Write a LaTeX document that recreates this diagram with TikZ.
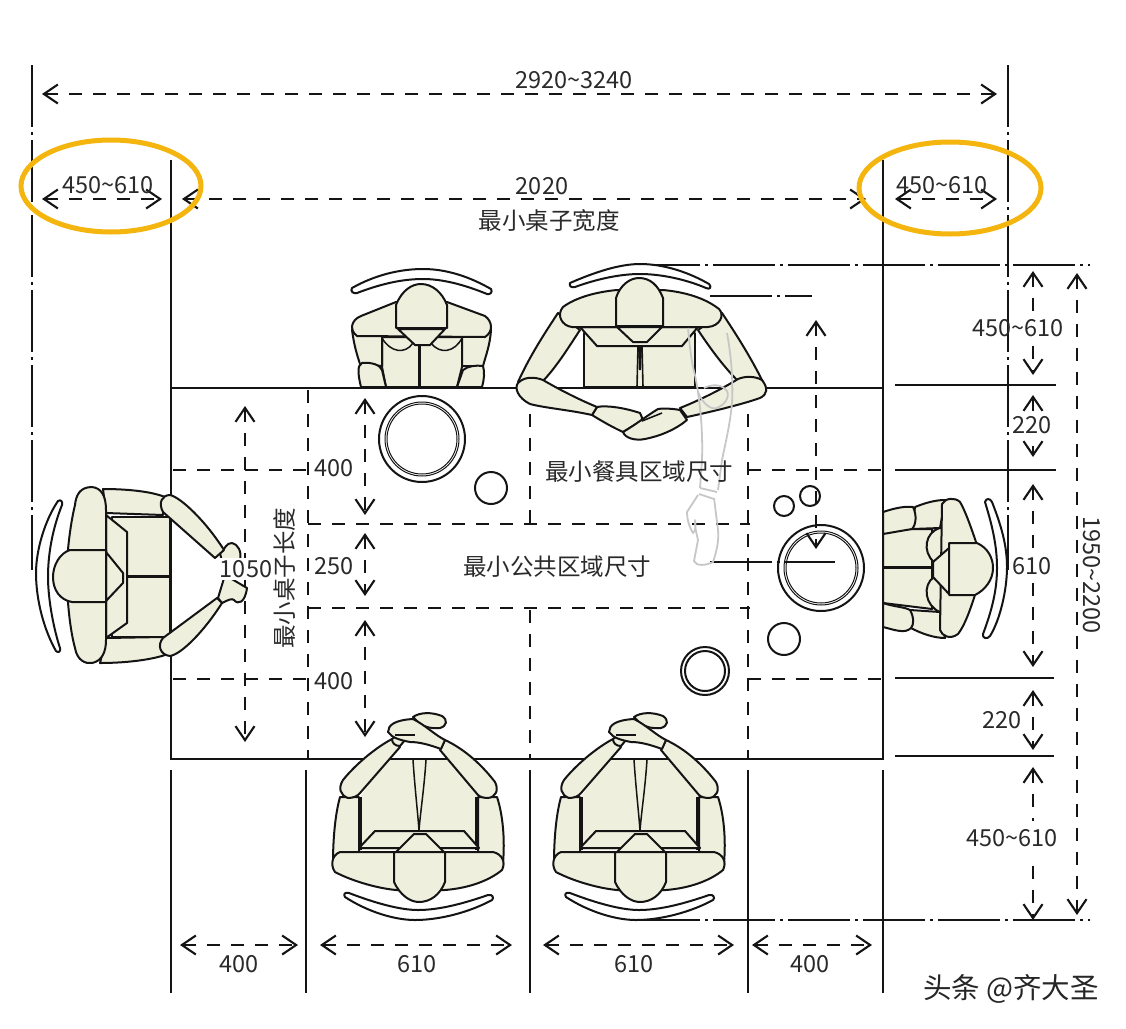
\documentclass[tikz,border=0pt]{standalone}
\usepackage{fontspec}
\setmainfont{Noto Sans CJK SC}
\usetikzlibrary{arrows.meta}
\definecolor{skin}{HTML}{EEEFDC}
\definecolor{ink}{HTML}{141414}
\definecolor{halo}{HTML}{F5B50F}
\definecolor{txt}{HTML}{2A2A2A}
\tikzset{
 body/.style={draw=ink,fill=skin,line width=2pt,line join=round},
 seat/.style={draw=ink,fill=white,line width=2pt,line join=round},
 thin line/.style={draw=ink,line width=1.5pt},
 wall/.style={draw=ink,line width=2pt},
 zone/.style={draw=ink,line width=2pt,dash pattern=on 13pt off 11pt},
 centre/.style={draw=ink,line width=2pt,dash pattern=on 62pt off 5pt on 3pt off 5pt},
 dimarrow/.style={draw=ink,line width=2pt,dash pattern=on 13pt off 11pt,{Straight Barb[length=14pt,width=19pt,line width=2.1pt]}-{Straight Barb[length=14pt,width=19pt,line width=2.1pt]}},
 lab/.style={text=txt,font=\fontsize{23.5}{24}\selectfont,inner sep=0pt},
 ring/.style={draw=ink,line width=2pt,fill=white},
 ghost/.style={draw=black!22,line width=1.8pt,line join=round},
 goldring/.style={draw=halo,line width=5pt},
}
\begin{document}
\begin{tikzpicture}[x=1pt,y=-1pt]
\useasboundingbox (0,0) rectangle (1126,1028);
\fill[white] (0,0) rectangle (1126,1028);
% ---- extension lines
\draw[centre] (32,65) -- (32,570);
\draw[centre] (1008,65) -- (1008,570);
\draw[wall] (171,160) -- (171,388);
\draw[wall] (883,160) -- (883,388);
\foreach \xx in {171,306,530,748,883} \draw[wall] (\xx,770) -- (\xx,993);
\draw[wall] (895,385) -- (1056,385);
\draw[wall] (895,470) -- (1056,470);
\draw[wall] (895,678) -- (1054,678);
\draw[wall] (895,756) -- (1054,756);
\draw[centre] (638,265) -- (1090,265);
\draw[centre] (638,920) -- (1090,920);
% ---- table
\draw[wall] (171,388) rectangle (883,759);
% ---- zones
\draw[zone] (308,390) -- (308,759);
\draw[zone] (530,390) -- (530,525);
\draw[zone] (530,610) -- (530,759);
\draw[zone] (748,390) -- (748,759);
\draw[zone] (173,470) -- (308,470);
\draw[zone] (748,470) -- (883,470);
\draw[zone] (173,679) -- (308,679);
\draw[zone] (748,679) -- (883,679);
\draw[zone] (308,524) -- (750,524);
\draw[zone] (308,608) -- (750,608);
% ---- tableware
\draw[ring] (422,439) circle[radius=43pt];
\draw[draw=ink,line width=1pt] (422,439) circle[radius=37pt];
\draw[draw=ink,line width=1pt] (422,439) circle[radius=35pt];
\draw[ring] (491,488) circle[radius=16pt];
\draw[ring] (821,568) circle[radius=43pt];
\draw[draw=ink,line width=1pt] (821,568) circle[radius=37pt];
\draw[draw=ink,line width=1pt] (821,568) circle[radius=35pt];
\draw[ring] (784,506) circle[radius=10pt];
\draw[ring] (810,496) circle[radius=10pt];
\draw[ring] (784,639) circle[radius=16pt];
\draw[ring] (705,671) circle[radius=24pt];
\draw[ring] (705,671) circle[radius=20pt];
% ---- dimension arrows
\draw[dimarrow] (42,94) -- (997,94);
\draw[dimarrow] (42,199) -- (162,199);
\draw[dimarrow] (182,199) -- (866,199);
\draw[dimarrow] (895,199) -- (997,199);
\draw[dimarrow] (180,945) -- (298,945);
\draw[dimarrow] (320,945) -- (512,945);
\draw[dimarrow] (543,945) -- (734,945);
\draw[dimarrow] (752,945) -- (872,945);
\draw[dimarrow] (245,406) -- (245,742);
\draw[dimarrow] (365,398) -- (365,515);
\draw[dimarrow] (365,533) -- (365,596);
\draw[dimarrow] (365,620) -- (365,737);
\draw[dimarrow] (816,320) -- (816,549);
\draw[dimarrow] (1033,271) -- (1033,375);
\draw[dimarrow] (1033,395) -- (1033,457);
\draw[dimarrow] (1033,484) -- (1033,667);
\draw[dimarrow] (1033,690) -- (1033,750);
\draw[dimarrow] (1033,767) -- (1033,920);
\draw[dimarrow] (1077,273) -- (1077,915);
\fill[white] (1028,311) rectangle (1038,344);
\fill[white] (1028,821) rectangle (1038,855);
\draw[centre] (710,296) -- (812,296);
\draw[centre] (710,562) -- (835,562);
% ---- seated person, top left
\draw[seat] (352,288) .. controls (375,275) and (400,269) .. (423,269) .. controls (447,269) and (470,277) .. (491,289) .. controls (493,292) and (490,295) .. (487,294) .. controls (465,285) and (443,279) .. (423,279) .. controls (400,279) and (378,285) .. (357,293) .. controls (353,294) and (350,291) .. (352,288) -- cycle;
\draw[body] (382,337) -- (382,367) -- (386,387) -- (457,387) -- (462,367) -- (462,337) -- cycle;
\draw[body] (352,330) .. controls (354,345) and (357,355) .. (360,364) -- (382,366) -- (382,336) -- cycle;
\draw[body] (491,330) .. controls (490,345) and (486,355) .. (483,366) -- (462,366) -- (462,336) -- cycle;
\draw[body] (361,387) .. controls (358,375) and (357,365) .. (362,363) .. controls (372,362) and (380,365) .. (382,370) -- (386,387) -- cycle;
\draw[body] (457,387) -- (463,370) .. controls (468,366) and (476,365) .. (483,366) .. controls (485,372) and (484,380) .. (482,387) -- cycle;
\draw[thin line] (382,338) .. controls (390,352) and (405,355) .. (413,343);
\draw[thin line] (431,343) .. controls (440,355) and (455,352) .. (462,338);
\draw[ink,line width=3pt] (419.5,345) -- (419.5,387);
\draw[body] (396,302) -- (361,316) .. controls (351,320) and (349,330) .. (357,336) -- (485,337) .. controls (493,332) and (493,322) .. (485,316) -- (447,302) -- cycle;
\draw[body] (398,329) -- (415,345) -- (430,345) -- (445,329) -- cycle;
\draw[body] (396,328) -- (396,305) .. controls (402,290) and (412,284) .. (421,284) .. controls (432,284) and (442,292) .. (447,305) -- (447,328) -- cycle;
% ---- seated person, top right
\draw[seat] (570,283) .. controls (595,272) and (620,264) .. (640,264) .. controls (665,264) and (690,273) .. (709,284) .. controls (712,287) and (710,290) .. (706,288) .. controls (685,279) and (660,274) .. (640,274) .. controls (620,274) and (597,279) .. (575,287) .. controls (571,288) and (569,286) .. (570,283) -- cycle;
\draw[body] (584,333) -- (584,387) -- (695,387) -- (695,333) -- cycle;
\draw[ink,line width=1.6pt] (638,346) -- (637,387) (642,346) -- (643,387);
\fill[ink] (638,346) -- (642,346) -- (641,370) -- (639,370) -- cycle;
\draw[body] (558,313) .. controls (540,340) and (528,360) .. (518,382) -- (543,381) .. controls (558,365) and (570,345) .. (580,330) -- cycle;
\draw[body] (722,313) .. controls (740,340) and (752,360) .. (763,382) -- (738,381) .. controls (722,365) and (708,345) .. (698,330) -- cycle;
\draw[body] (580,327) -- (597,346) -- (682,346) -- (698,327) -- cycle;
\draw[body] (617,290) .. controls (595,292) and (575,298) .. (563,307) .. controls (556,315) and (562,326) .. (572,327) -- (708,327) .. controls (720,326) and (725,315) .. (719,309) .. controls (705,298) and (685,292) .. (663,290) -- cycle;
\draw[body] (617,327) -- (633,342) -- (647,342) -- (662,327) -- cycle;
\draw[body] (616,326) -- (616,298) .. controls (620,285) and (630,278) .. (639,278) .. controls (650,278) and (658,285) .. (663,298) -- (663,326) -- cycle;
\draw[body] (597,407) .. controls (607,405) and (625,408) .. (640,413) .. controls (642,416) and (642,418) .. (642,421) .. controls (636,424) and (630,428) .. (623,432) .. controls (612,427) and (600,420) .. (592,415) -- cycle;
\draw[body] (543,380) .. controls (560,390) and (580,400) .. (597,407) -- (592,415) .. controls (570,410) and (545,408) .. (530,404) .. controls (518,398) and (514,388) .. (518,383) .. controls (525,376) and (535,377) .. (543,380) -- cycle;
\draw[body] (623,432) .. controls (635,425) and (648,415) .. (658,409) .. controls (665,408) and (675,409) .. (680,410) -- (687,420) .. controls (675,430) and (660,436) .. (645,439) .. controls (635,441) and (625,438) .. (623,432) -- cycle;
\draw[ink,line width=1.6pt] (642,421) -- (662,413);
\draw[body] (680,408) .. controls (700,400) and (720,390) .. (738,379) .. controls (745,376) and (755,376) .. (762,380) .. controls (768,388) and (768,394) .. (760,398) .. controls (740,405) and (710,412) .. (687,417) -- cycle;
% ---- seated person, left
\draw[seat] (58,501) .. controls (61,499) and (63,502) .. (62,505) .. controls (54,525) and (48,550) .. (48,577) .. controls (48,600) and (54,630) .. (60,648) .. controls (61,652) and (58,653) .. (56,651) .. controls (44,630) and (36,600) .. (36,573) .. controls (36,550) and (45,520) .. (58,501) -- cycle;
\draw[body] (112,517) -- (170,517) -- (170,637) -- (112,637) -- cycle;
\draw[ink,line width=3pt] (127,576) -- (170,576);
\draw[body] (103,489) .. controls (125,489) and (150,491) .. (165,497) -- (163,515) -- (106,513) -- cycle;
\draw[body] (100,663) .. controls (125,663) and (150,660) .. (165,655) -- (163,637) -- (106,638) -- cycle;
\draw[body] (106,515) -- (127,532) -- (127,623) -- (106,638) -- cycle;
\draw[body] (92,487) .. controls (80,487) and (76,495) .. (75,505) .. controls (70,525) and (66,560) .. (67,577) .. controls (67,600) and (70,630) .. (75,648) .. controls (77,660) and (85,664) .. (92,663) .. controls (102,661) and (106,652) .. (106,640) -- (106,510) .. controls (106,497) and (102,488) .. (92,487) -- cycle;
\draw[body] (106,552) -- (123,573) -- (123,583) -- (106,601) -- cycle;
\draw[body] (106,550) -- (70,550) .. controls (60,553) and (53,565) .. (53,577) .. controls (53,590) and (60,600) .. (72,602) -- (106,602) -- cycle;
\draw[body] (220,553) .. controls (226,548) and (226,543) .. (232,543) .. controls (238,544) and (242,552) .. (240,560) -- (225,575) -- cycle;
\draw[body] (218,598) -- (222,603) .. controls (228,600) and (232,598) .. (234,600) .. controls (238,605) and (245,603) .. (247,588) -- (225,575) -- cycle;
\draw[body] (163,512) .. controls (158,503) and (162,495) .. (170,495) .. controls (180,497) and (205,520) .. (224,550) -- (215,558) -- cycle;
\draw[body] (163,638) .. controls (157,645) and (160,655) .. (170,656) .. controls (182,654) and (205,630) .. (222,603) -- (217,598) -- cycle;
% ---- seated person, right
\draw[seat] (985,502) .. controls (986,498) and (990,498) .. (992,502) .. controls (1001,525) and (1007,545) .. (1007,567) .. controls (1007,590) and (1000,620) .. (990,636) .. controls (987,640) and (982,638) .. (983,634) .. controls (992,610) and (997,590) .. (997,568) .. controls (997,545) and (992,525) .. (985,502) -- cycle;
\draw[body] (883,529) -- (932,529) -- (932,609) -- (883,603) -- cycle;
\draw[ink,line width=3pt] (883,567) -- (932,567);
\draw[body] (915,507) .. controls (925,503) and (935,500) .. (945,500) -- (940,528) -- (912,529) -- cycle;
\draw[body] (910,610) -- (940,612) -- (945,638) .. controls (935,638) and (922,634) .. (911,628) -- cycle;
\draw[body] (883,512) .. controls (895,508) and (905,506) .. (913,507) .. controls (917,515) and (916,525) .. (912,529) -- (883,534) -- cycle;
\draw[body] (883,603) .. controls (895,607) and (905,607) .. (910,610) .. controls (914,617) and (914,625) .. (911,628) .. controls (905,634) and (895,630) .. (883,627) -- cycle;
\draw[body] (940,528) .. controls (925,532) and (922,552) .. (934,562) -- (949,548) -- (949,530) -- cycle;
\draw[body] (940,612) .. controls (925,606) and (922,585) .. (934,577) -- (949,590) -- (949,612) -- cycle;
\draw[body] (942,504) .. controls (945,498) and (955,497) .. (960,502) .. controls (965,510) and (972,530) .. (977,545) -- (975,595) .. controls (970,610) and (965,625) .. (958,634) .. controls (950,640) and (942,636) .. (940,630) -- cycle;
\draw[body] (949,548) -- (933,562) -- (933,577) -- (949,594) -- cycle;
\draw[body] (949,543) -- (977,543) .. controls (988,548) and (993,558) .. (993,568) .. controls (993,580) and (985,590) .. (975,595) -- (949,595) -- cycle;
% ---- seated persons, bottom (same figure twice)
\foreach \dx in {0,221}{
\begin{scope}[xshift=\dx pt]
\draw[seat] (345,897) .. controls (343,894) and (345,892) .. (349,893) .. controls (375,903) and (400,910) .. (418,910) .. controls (440,910) and (465,903) .. (488,895) .. controls (493,894) and (494,898) .. (492,900) .. controls (470,912) and (440,920) .. (415,920) .. controls (395,920) and (368,912) .. (345,897) -- cycle;
\fill[skin] (360,797) -- (386,760) -- (452,760) -- (480,797) -- (477,850) -- (362,850) -- cycle;
\draw[ink,line width=1.5pt] (413,760) .. controls (415,790) and (418,815) .. (419,831) .. controls (420,815) and (424,790) .. (426,760);
\draw[body] (340,797) .. controls (335,815) and (333,840) .. (333,863) -- (359,855) -- (359,797) -- cycle;
\draw[body] (497,797) .. controls (503,815) and (505,840) .. (503,863) -- (478,855) -- (478,797) -- cycle;
\draw[ink,line width=2.6pt] (360.5,797) -- (360.5,850) (476.5,797) -- (476.5,850);
\draw[body] (359,848) -- (375,831) -- (464,831) -- (479,848) -- cycle;
\draw[body] (340,852) .. controls (332,855) and (330,865) .. (335,872) .. controls (350,880) and (375,888) .. (396,890) -- (445,890) .. controls (470,888) and (490,880) .. (502,870) .. controls (506,862) and (502,854) .. (493,852) -- cycle;
\draw[body] (396,852) -- (414,834) -- (426,834) -- (444,852) -- cycle;
\draw[body] (394,852) -- (394,882) .. controls (400,895) and (410,902) .. (419,902) .. controls (430,902) and (440,895) .. (445,882) -- (445,852) -- cycle;
\draw[body] (392,739) .. controls (375,748) and (355,765) .. (343,780) .. controls (338,788) and (340,795) .. (348,798) .. controls (353,798) and (358,796) .. (360,793) -- (400,747) -- cycle;
\draw[body] (445,740) .. controls (460,747) and (478,760) .. (495,782) .. controls (499,790) and (496,797) .. (488,798) .. controls (484,798) and (480,797) .. (478,795) -- (440,750) -- cycle;
\draw[body] (392,739) .. controls (392,743) and (395,746) .. (400,746) -- (405,740) -- (396,736) -- cycle;
\draw[body] (413,717) .. controls (420,712) and (432,712) .. (442,716) .. controls (448,720) and (447,726) .. (440,728) .. controls (432,729) and (425,727) .. (420,724) -- cycle;
\draw[body] (388,732) .. controls (388,725) and (395,720) .. (413,719) .. controls (425,725) and (435,735) .. (445,740) -- (441,749) .. controls (430,745) and (420,742) .. (410,742) .. controls (400,740) and (392,738) .. (388,732) -- cycle;
\draw[ink,line width=1.8pt] (395,735) -- (415,735);
\end{scope}}
% ---- faint overlaid arm
\draw[ghost] (688,328) .. controls (690,350) and (692,365) .. (695,375) .. controls (700,400) and (703,430) .. (702,460) -- (700,488);
\draw[ghost] (727,333) .. controls (732,360) and (733,385) .. (732,403) .. controls (730,425) and (725,445) .. (722,460) -- (718,490);
\draw[ghost] (698,392) .. controls (703,405) and (712,410) .. (717,408) .. controls (724,405) and (730,398) .. (727,391) .. controls (722,384) and (712,384) .. (704,388);
\draw[ghost] (700,488) -- (717,492) (699,494) -- (714,499);
\draw[ghost] (698,495) -- (687,512) .. controls (687,522) and (691,530) .. (693,533) .. controls (696,530) and (696,525) .. (695,520) .. controls (695,530) and (697,535) .. (698,540) -- (694,561) .. controls (696,566) and (705,566) .. (713,562) .. controls (717,550) and (719,540) .. (718,530) -- (714,498);
% ---- labels
\node[lab] (t1) at (574,80) {2920\char"7E 3240};
\node[lab] (t2) at (108,185) {450\char"7E 610};
\node[lab] (t3) at (942,185) {450\char"7E 610};
\node[lab] (t4) at (542,186) {2020};
\node[lab] (t5) at (549,221) {最小桌子宽度};
\node[lab] (t6) at (1018,328) {450\char"7E 610};
\node[lab,fill=white,inner sep=1pt] (t7) at (1032,425) {220};
\node[lab,fill=white,inner sep=1pt] (t8) at (1032,566) {610};
\node[lab] (t9) at (1002,720) {220};
\node[lab] (t10) at (1012,838) {450\char"7E 610};
\node[lab,rotate=-90] (t11) at (1092,575) {1950\char"7E 2200};
\node[lab] (t12) at (334,468) {400};
\node[lab] (t13) at (334,566) {250};
\node[lab] (t14) at (334,681) {400};
\node[lab,fill=white,inner sep=2pt] (t15) at (246,569) {1050};
\node[lab,rotate=90] (t16) at (285,578) {最小桌子长度};
\node[lab] (t17) at (639,472) {最小餐具区域尺寸};
\node[lab] (t18) at (557,567) {最小公共区域尺寸};
\node[lab] (t19) at (239,964) {400};
\node[lab] (t20) at (417,964) {610};
\node[lab] (t21) at (634,964) {610};
\node[lab] (t22) at (810,964) {400};
\node[text=black!85,font=\fontsize{28.5}{29}\selectfont,inner sep=0pt] (wm) at (1011,989) {头条 @齐大圣};
% ---- highlight ellipses
\draw[goldring] (111,186) ellipse[x radius=90pt,y radius=46pt];
\draw[goldring] (950,188) ellipse[x radius=91pt,y radius=46pt];
\end{tikzpicture}
\end{document}
